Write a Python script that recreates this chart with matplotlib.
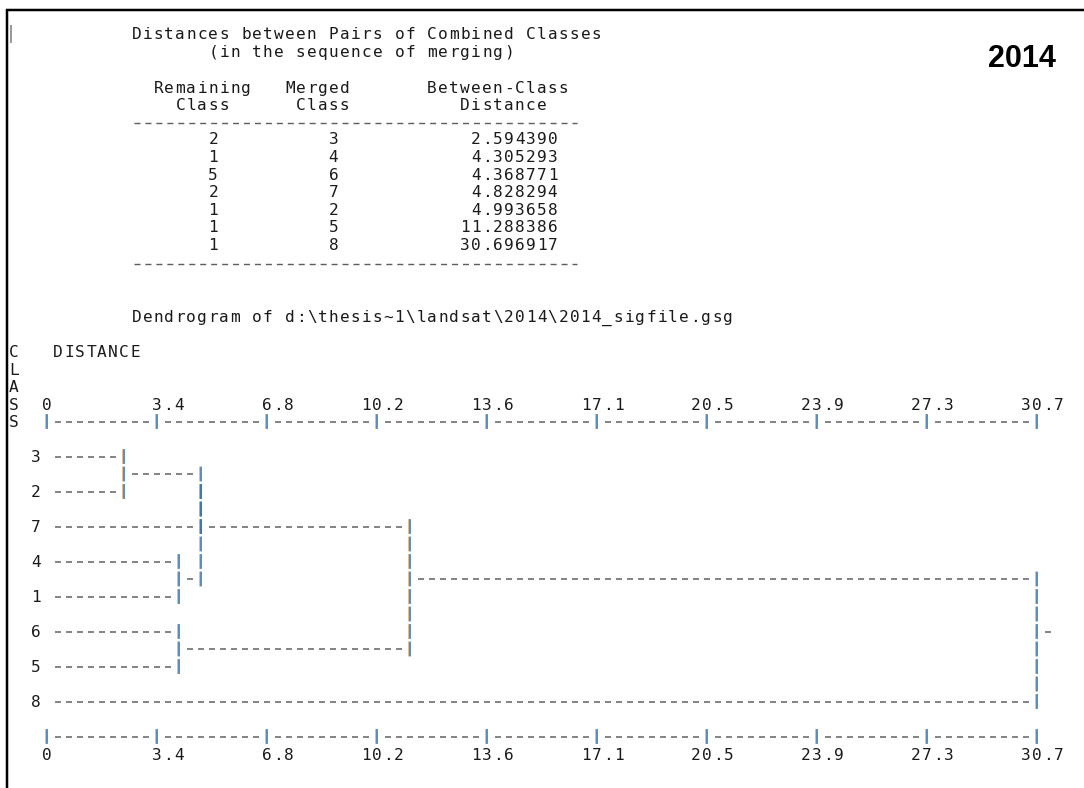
import math
import matplotlib
matplotlib.use("Agg")
import matplotlib.pyplot as plt
from matplotlib import transforms

# ---- merge table (sequence of merging) ----
remaining_class = [2, 1, 5, 2, 1, 1, 1]
merged_class = [3, 4, 6, 7, 2, 5, 8]
between_class_distance = [2.594390, 4.305293, 4.368771, 4.828294,
                          4.993658, 11.288386, 30.696917]

# order of the classes down the dendrogram
leaf_order = [3, 2, 7, 4, 1, 6, 5, 8]

# distance scale labels (one every ten text columns)
scale_labels = ["0", "3.4", "6.8", "10.2", "13.6", "17.1",
                "20.5", "23.9", "27.3", "30.7"]

source_file = r"d:\thesis~1\landsat\2014\2014_sigfile.gsg"
year_label = "2014"

plt.rcParams["lines.scale_dashes"] = False

W, H, DPI = 1084, 788, 100
PX = 72.0 / DPI                      # points per pixel
fig = plt.figure(figsize=(W / DPI, H / DPI), dpi=DPI)
fig.patch.set_facecolor("white")

MONO = "DejaVu Sans Mono"
FS = 11.6
TXT = "#1a1a1a"
DASH_C = "#5e5e5e"
BAR_C = "#3474b4"
FRINGE_C = "#d9a060"
BASE = 0.729 * FS / PX / 2.0          # half cap height, pixels

# ---- page axes: pixel units, used for the listing header ----
page = fig.add_axes([0, 0, 1, 1])
page.set_xlim(0, W)
page.set_ylim(H, 0)
page.axis("off")

# window frame and caret
page.plot([6, W], [9.5, 9.5], color="black", lw=2.5 * PX, solid_capstyle="butt")
page.plot([7, 7], [9, H], color="black", lw=2.5 * PX, solid_capstyle="butt")
page.plot([11, 11], [25, 43], color="#808080", lw=1.6 * PX, solid_capstyle="butt")

HX0 = 131.0      # left edge of header text column 0
HCW = 10.95      # header character width


def put_page(col, y, s, **kw):
    for i, ch in enumerate(s):
        if ch == " ":
            continue
        page.text(HX0 + (col + i + 0.5) * HCW, y + BASE, ch, ha="center",
                  va="baseline", family=MONO, fontsize=FS, color=TXT, **kw)


def rule_page(col0, col1, y):
    x1 = HX0 + col0 * HCW + 2.5
    x2 = HX0 + (col1 + 1) * HCW - 2.5
    page.plot([x1, x2], [y, y], color=DASH_C, lw=1.4 * PX,
              linestyle=(0, (6 * PX, (HCW - 6) * PX)), dash_capstyle="butt")


put_page(0, 33, "Distances between Pairs of Combined Classes")
put_page(7, 51, "(in the sequence of merging)")
put_page(2, 87, "Remaining")
put_page(14, 87, "Merged")
put_page(27, 87, "Between-Class")
put_page(4, 104, "Class")
put_page(15, 104, "Class")
put_page(30, 104, "Distance")
rule_page(0, 40, 123)

for i, (rc, mc, d) in enumerate(zip(remaining_class, merged_class,
                                    between_class_distance)):
    y = 138.5 + 17.6 * i
    r_txt, m_txt, d_txt = str(rc), str(mc), f"{d:.6f}"
    put_page(8 - len(r_txt), y, r_txt)
    put_page(19 - len(m_txt), y, m_txt)
    put_page(39 - len(d_txt), y, d_txt)

rule_page(0, 40, 263.5)
put_page(0, 316, "Dendrogram of " + source_file)

page.text(1022, 59, year_label, ha="center", va="center",
          family="Liberation Sans", fontweight="bold", fontsize=22, color="black")

# ---- dendrogram axes: x in distance units, y in text lines ----
N_COLS = 90
CELL = 11.0      # pixels per text column
ROW = 17.5       # pixels per text line
X0 = 47.0        # pixel position of distance 0
Y0 = 456.5       # pixel position of the first class line

step = max(between_class_distance) / N_COLS
ax = fig.add_axes([0, 0, 1, 1])
ax.set_xlim(-X0 / CELL * step, (W - X0) / CELL * step)
ax.set_ylim((H - Y0) / ROW, -Y0 / ROW)
ax.axis("off")

fringe = transforms.offset_copy(ax.transData, fig=fig, x=-1.3, y=0, units="dots")


def col_of(d):
    return int(math.floor(d / step + 1e-9))


def put(col, row, s):
    for i, ch in enumerate(s):
        if ch == " ":
            continue
        ax.text((col + i) * step, row + BASE / ROW, ch, ha="center",
                va="baseline", family=MONO, fontsize=FS, color=TXT)


def hdash(c0, c1, row):
    if c1 < c0:
        return
    x1 = (c0 - 0.5 + 2.5 / CELL) * step
    x2 = (c1 + 0.5 - 2.5 / CELL) * step
    ax.plot([x1, x2], [row, row], color=DASH_C, lw=1.5 * PX,
            linestyle=(0, (6 * PX, 5 * PX)), dash_capstyle="butt")


def vbar(col, r0, r1):
    pad = 1.35 / ROW
    ys = [min(r0, r1) - 0.5 + pad, max(r0, r1) + 0.5 - pad]
    xs = [col * step, col * step]
    style = (0, (14.8 * PX, 2.7 * PX))
    ax.plot(xs, ys, color=FRINGE_C, lw=0.8 * PX, linestyle=style,
            dash_capstyle="butt", transform=fringe, snap=False)
    ax.plot(xs, ys, color=BAR_C, lw=1.6 * PX, linestyle=style,
            dash_capstyle="butt", snap=False)


# axis captions
for k, ch in enumerate("CLASS"):
    put(-3, -6 + k, ch)
put(1, -6, "DISTANCE")


# distance scales above and below the tree
def scale(row, label_row):
    for k, lab in enumerate(scale_labels):
        c = 10 * k
        vbar(c, row, row)
        if k < len(scale_labels) - 1:
            hdash(c + 1, c + 9, row)
        start = c if len(lab) == 1 else c + 3 - len(lab)
        put(start, label_row, lab)


n_leaf = len(leaf_order)
scale(-2, -3)
scale(2 * n_leaf, 2 * n_leaf + 1)

# leaves
clusters = {}
for i, cls in enumerate(leaf_order):
    put(-1, 2 * i, str(cls))
    clusters[cls] = {"row": 2 * i, "start": 1}

# merges, in sequence
for a, b, d in zip(remaining_class, merged_class, between_class_distance):
    c = col_of(d)
    ca, cb = clusters.pop(a), clusters.pop(b)
    hdash(ca["start"], c - 1, ca["row"])
    hdash(cb["start"], c - 1, cb["row"])
    vbar(c, ca["row"], cb["row"])
    clusters[a] = {"row": (ca["row"] + cb["row"]) // 2, "start": c + 1}

# stub leaving the final cluster
for info in clusters.values():
    hdash(info["start"], N_COLS + 1, info["row"])

fig.savefig("out.png", dpi=DPI, facecolor="white")
